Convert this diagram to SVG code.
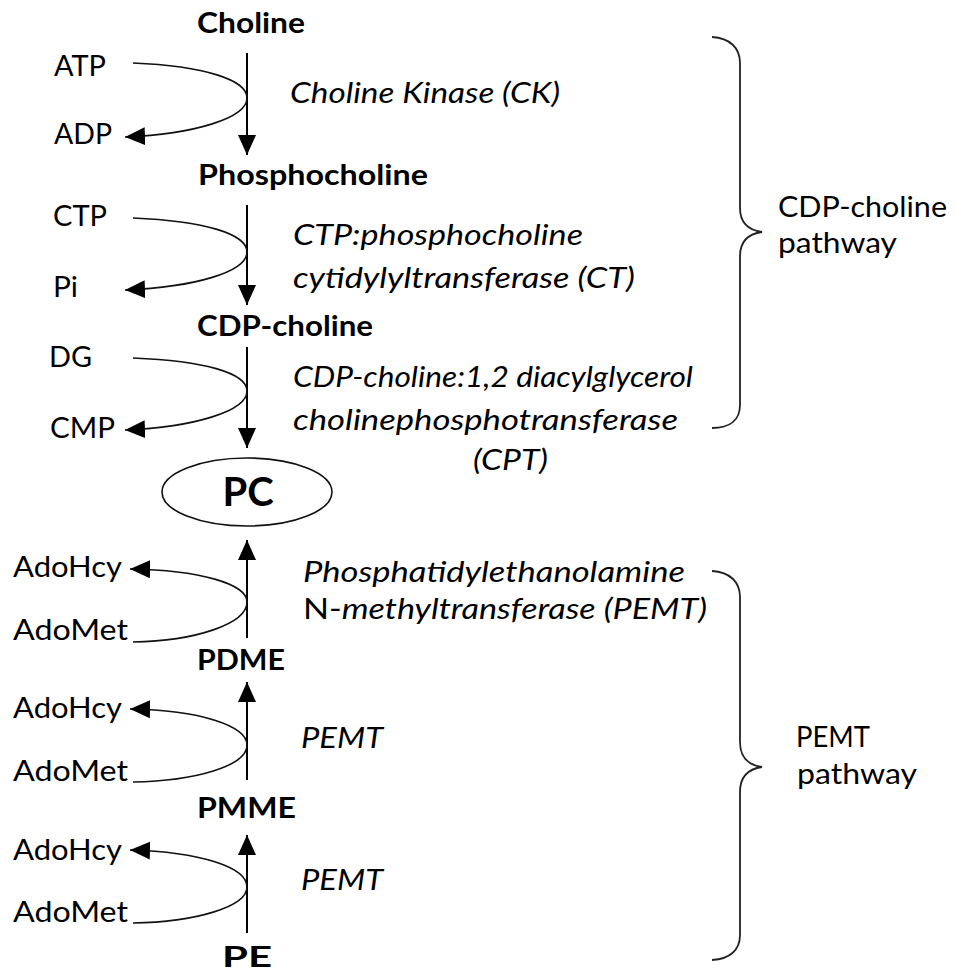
<svg xmlns="http://www.w3.org/2000/svg" width="956" height="976" viewBox="0 0 956 976">
<style>
text{font-family:Lato,"Open Sans","Liberation Sans",sans-serif;font-size:28px;fill:#000}
.b{font-weight:bold}
.i{font-style:italic}
.n{font-style:normal}
.pc{font-size:40px;font-weight:bold}
.v{stroke:#000;stroke-width:2;fill:none}
.a{stroke:#111;stroke-width:1.6;fill:none}
.br{stroke:#222;stroke-width:1.8;fill:none}
</style>
<defs>
<marker id="ah" viewBox="0 0 20 18" refX="20" refY="9" markerWidth="20" markerHeight="18" markerUnits="userSpaceOnUse" orient="auto">
<path d="M0,0 L20,9 L0,18 z" fill="#000"/>
</marker>
</defs>
<rect width="956" height="976" fill="#fff"/>

<g id="connectors">
<path class="v" d="M247,53 V155" marker-end="url(#ah)"/>
<path class="v" d="M247,205 V305" marker-end="url(#ah)"/>
<path class="v" d="M247,347 V448" marker-end="url(#ah)"/>
<path class="v" d="M247,638 V540" marker-end="url(#ah)"/>
<path class="v" d="M247,780 V682" marker-end="url(#ah)"/>
<path class="v" d="M247,933 V835" marker-end="url(#ah)"/>
<path class="a" d="M133,63 C205,66 247,80 247,98 C247,118 195,134 125,137" marker-end="url(#ah)"/>
<path class="a" d="M133,218 C205,221 247,234 247,252 C247,272 195,287 125,290" marker-end="url(#ah)"/>
<path class="a" d="M133,358 C205,361 247,373 247,391 C247,411 195,427 125,430" marker-end="url(#ah)"/>
<path class="a" d="M133,642 C195,641 247,624 247,602 C247,584 200,570 130,569" marker-end="url(#ah)"/>
<path class="a" d="M133,782 C195,781 247,766 247,745 C247,726 200,710 130,709" marker-end="url(#ah)"/>
<path class="a" d="M133,923 C195,922 247,907 247,887 C247,867 200,852 130,850" marker-end="url(#ah)"/>
</g>

<g id="brace-cdp">
<path class="br" d="M712,37 C730,38 740,48 740,63 L740,208 C740,222 748,230 762,232 C748,234 740,242 740,256 L740,405 C740,420 730,428 712,428"/>
<text x="778" y="217" textLength="169" lengthAdjust="spacingAndGlyphs">CDP-choline</text>
<text x="778" y="253" textLength="119" lengthAdjust="spacingAndGlyphs">pathway</text>
</g>
<g id="brace-pemt">
<path class="br" d="M712,571 C730,572 740,582 740,597 L740,742 C740,757 748,765 762,767 C748,769 740,777 740,792 L740,935 C740,950 730,959 712,960"/>
<text x="796" y="747" textLength="74" lengthAdjust="spacingAndGlyphs">PEMT</text>
<text x="797" y="784" textLength="120" lengthAdjust="spacingAndGlyphs">pathway</text>
</g>

<g id="choline"><text class="b" x="197" y="33" textLength="108" lengthAdjust="spacingAndGlyphs">Choline</text></g>
<g id="phosphocholine"><text class="b" x="198" y="185" textLength="230" lengthAdjust="spacingAndGlyphs">Phosphocholine</text></g>
<g id="cdp-choline"><text class="b" x="197" y="336" textLength="176" lengthAdjust="spacingAndGlyphs">CDP-choline</text></g>
<g id="pc">
<ellipse cx="247" cy="492" rx="85" ry="34" fill="none" stroke="#111" stroke-width="1.6"/>
<text class="pc" x="248" y="506" text-anchor="middle">PC</text>
</g>
<g id="pdme"><text class="b" x="197" y="670" textLength="88" lengthAdjust="spacingAndGlyphs">PDME</text></g>
<g id="pmme"><text class="b" x="197" y="818" textLength="99" lengthAdjust="spacingAndGlyphs">PMME</text></g>
<g id="pe"><text class="b" x="222" y="967" textLength="50" lengthAdjust="spacingAndGlyphs">PE</text></g>

<g id="cofactors">
<text x="54" y="76" textLength="52" lengthAdjust="spacingAndGlyphs">ATP</text>
<text x="54" y="144" textLength="58" lengthAdjust="spacingAndGlyphs">ADP</text>
<text x="53" y="226" textLength="54" lengthAdjust="spacingAndGlyphs">CTP</text>
<text x="53" y="297" textLength="25" lengthAdjust="spacingAndGlyphs">Pi</text>
<text x="49" y="367" textLength="43" lengthAdjust="spacingAndGlyphs">DG</text>
<text x="50" y="438" textLength="65" lengthAdjust="spacingAndGlyphs">CMP</text>
<text x="13" y="577" textLength="109" lengthAdjust="spacingAndGlyphs">AdoHcy</text>
<text x="13" y="640" textLength="115" lengthAdjust="spacingAndGlyphs">AdoMet</text>
<text x="13" y="718" textLength="109" lengthAdjust="spacingAndGlyphs">AdoHcy</text>
<text x="13" y="781" textLength="115" lengthAdjust="spacingAndGlyphs">AdoMet</text>
<text x="13" y="860" textLength="109" lengthAdjust="spacingAndGlyphs">AdoHcy</text>
<text x="13" y="922" textLength="115" lengthAdjust="spacingAndGlyphs">AdoMet</text>
</g>

<g id="enzymes">
<text class="i" x="290" y="103" textLength="270" lengthAdjust="spacingAndGlyphs">Choline Kinase (CK)</text>
<text class="i" x="293" y="245" textLength="290" lengthAdjust="spacingAndGlyphs">CTP:phosphocholine</text>
<text class="i" x="293" y="288" textLength="342" lengthAdjust="spacingAndGlyphs">cytidylyltransferase (CT)</text>
<text class="i" x="293" y="387" textLength="400" lengthAdjust="spacingAndGlyphs">CDP-choline:1,2 diacylglycerol</text>
<text class="i" x="293" y="430" textLength="385" lengthAdjust="spacingAndGlyphs">cholinephosphotransferase</text>
<text class="i" x="473" y="470" textLength="75" lengthAdjust="spacingAndGlyphs">(CPT)</text>
<text class="i" x="303" y="582" textLength="382" lengthAdjust="spacingAndGlyphs">Phosphatidylethanolamine</text>
<text x="303" y="619" textLength="404" lengthAdjust="spacingAndGlyphs"><tspan class="n">N-</tspan><tspan class="i">methyltransferase (PEMT)</tspan></text>
<text class="i" x="301" y="748" textLength="82" lengthAdjust="spacingAndGlyphs">PEMT</text>
<text class="i" x="301" y="890" textLength="82" lengthAdjust="spacingAndGlyphs">PEMT</text>
</g>
</svg>
